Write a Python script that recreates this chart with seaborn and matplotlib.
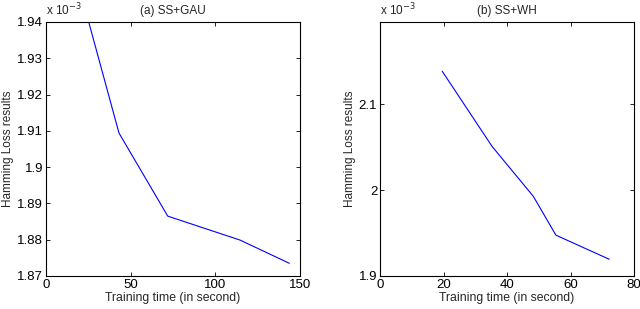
import matplotlib
matplotlib.use("Agg")
import matplotlib.pyplot as plt
import seaborn as sns
import pandas as pd
from matplotlib.ticker import FuncFormatter

# data (Hamming loss in units of 1e-3)
time_a = [25.4, 43.1, 71.9, 114.6, 143.7]
loss_a = [1.9397, 1.9094, 1.8865, 1.8799, 1.8735]
time_b = [19.6, 35.3, 48.3, 55.4, 72.2]
loss_b = [2.1386, 2.0510, 1.9928, 1.9476, 1.9195]
titles = ["(a) SS+GAU", "(b) SS+WH"]

sns.set_style("white")
plt.rcParams['font.family'] = ['Liberation Sans', 'DejaVu Sans']
plt.rcParams['font.size'] = 8.5

fig = plt.figure(figsize=(6.4, 3.09), dpi=100)
W, H = 640, 309
ax1 = fig.add_axes([46 / W, 1 - 276 / H, 254 / W, 254 / H])
ax2 = fig.add_axes([380 / W, 1 - 276 / H, 254 / W, 254 / H])

df_a = pd.DataFrame({"t": time_a, "l": loss_a})
df_b = pd.DataFrame({"t": time_b, "l": loss_b})
sns.lineplot(data=df_a, x="t", y="l", ax=ax1, color=(0, 0, 1), linewidth=0.8, sort=False)
sns.lineplot(data=df_b, x="t", y="l", ax=ax2, color=(0, 0, 1), linewidth=0.8, sort=False)

ax1.set_xlim(0, 150)
ax1.set_ylim(1.87, 1.94)
ax1.set_xticks([0, 50, 100, 150])
ax1.set_yticks([1.87, 1.88, 1.89, 1.90, 1.91, 1.92, 1.93, 1.94])
ax2.set_xlim(0, 80)
ax2.set_ylim(1.9, 2.196)
ax2.set_xticks([0, 20, 40, 60, 80])
ax2.set_yticks([1.9, 2.0, 2.1])

fmt = FuncFormatter(lambda v, p: "%g" % round(v, 4))
for ax, title in zip([ax1, ax2], titles):
    ax.yaxis.set_major_formatter(fmt)
    ax.xaxis.set_major_formatter(fmt)
    for s in ax.spines.values():
        s.set_visible(True)
        s.set_color("black")
        s.set_linewidth(0.8)
    ax.tick_params(direction="in", length=3, width=0.6, top=True, right=True,
                   bottom=True, left=True, labelsize=9.5, pad=2, colors="black")
    ax.set_xlabel("Training time (in second)", fontsize=8.8, labelpad=1)
    ax.set_ylabel("Hamming Loss results", fontsize=8.5, labelpad=2)
    ax.set_title(title, fontsize=8.5, pad=6)
    ax.text(0.0, 1.015, r"x 10$^{-3}$", transform=ax.transAxes, fontsize=8.5,
            ha="left", va="bottom")

fig.savefig("out.png", dpi=100, facecolor="white")
